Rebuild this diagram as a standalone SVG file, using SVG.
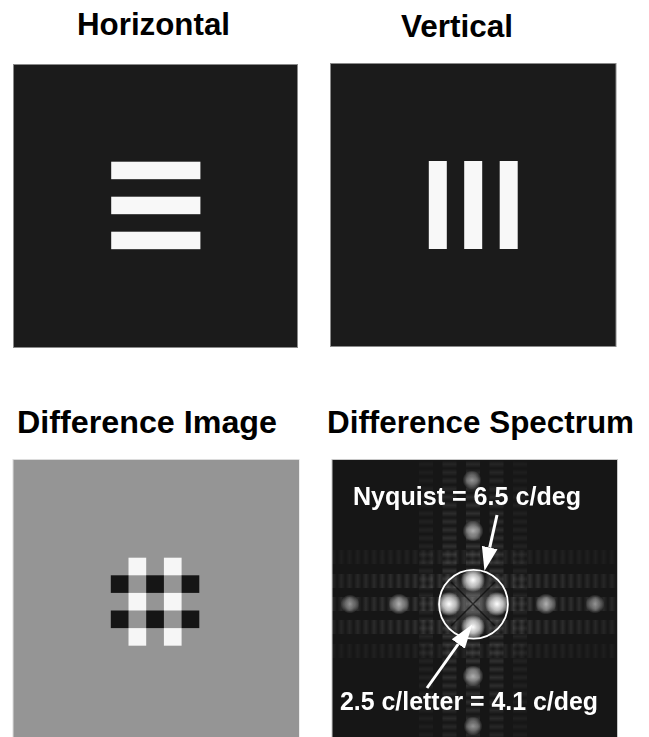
<svg xmlns="http://www.w3.org/2000/svg" width="649" height="737" viewBox="0 0 649 737">
<style>
.title{font-family:"Liberation Sans",Arial,Helvetica,sans-serif;font-weight:bold;font-size:31px;fill:#000}
.lab{font-family:"Liberation Sans",Arial,Helvetica,sans-serif;font-weight:bold;font-size:25px;fill:#fff}
.dark{fill:#1b1b1b;stroke:#8a8a8a;stroke-width:1}
.bar{fill:#f8f8f8}
.blk{fill:#151515}
.wht{fill:#f6f6f6}
.arrow{stroke:#fff;stroke-width:3;fill:none}
</style>
<defs>
<radialGradient id="blob">
<stop offset="0" stop-color="#fff" stop-opacity="1"/>
<stop offset="0.5" stop-color="#e0e0e0" stop-opacity="0.8"/>
<stop offset="1" stop-color="#fff" stop-opacity="0"/>
</radialGradient>
<radialGradient id="glow">
<stop offset="0" stop-color="#808080" stop-opacity="0.55"/>
<stop offset="1" stop-color="#808080" stop-opacity="0"/>
</radialGradient>
<linearGradient id="sx" x1="0" y1="0" x2="1" y2="0">
<stop offset="0" stop-color="#fff" stop-opacity="0"/>
<stop offset="0.5" stop-color="#fff" stop-opacity="1"/>
<stop offset="1" stop-color="#fff" stop-opacity="0"/>
</linearGradient>
<linearGradient id="sy" x1="0" y1="0" x2="0" y2="1">
<stop offset="0" stop-color="#fff" stop-opacity="0"/>
<stop offset="0.5" stop-color="#fff" stop-opacity="1"/>
<stop offset="1" stop-color="#fff" stop-opacity="0"/>
</linearGradient>
<pattern id="vstr" x="1" width="8.2" height="10" patternUnits="userSpaceOnUse">
<rect x="0" y="0" width="8.2" height="10" fill="url(#sx)"/>
</pattern>
<pattern id="hstr" y="1" width="10" height="8.2" patternUnits="userSpaceOnUse">
<rect x="0" y="0" width="10" height="8.2" fill="url(#sy)"/>
</pattern>
<radialGradient id="fade" cx="473" cy="604" r="170" gradientUnits="userSpaceOnUse">
<stop offset="0" stop-color="#fff"/>
<stop offset="1" stop-color="#555"/>
</radialGradient>
<mask id="fadeMask" maskUnits="userSpaceOnUse" x="332" y="460" width="286" height="277">
<rect x="332" y="460" width="286" height="277" fill="url(#fade)"/>
</mask>
<clipPath id="specClip"><rect x="332.5" y="460" width="284.5" height="277"/></clipPath>
<marker id="head" markerUnits="userSpaceOnUse" markerWidth="24" markerHeight="18" viewBox="0 0 24 18" refX="0" refY="9" orient="auto">
<path d="M0,1 L24,9 L0,17 Z" fill="#fff"/>
</marker>
</defs>
<rect width="649" height="737" fill="#fff"/>

<g id="horizontal">
<text class="title" x="77" y="35" textLength="153" lengthAdjust="spacingAndGlyphs">Horizontal</text>
<rect class="dark" x="13.5" y="64.5" width="284" height="283"/>
<rect class="bar" x="111.2" y="161.7" width="89.2" height="17.5"/>
<rect class="bar" x="111.2" y="196.7" width="89.2" height="17.5"/>
<rect class="bar" x="111.2" y="231.7" width="89.2" height="17.5"/>
</g>

<g id="vertical">
<text class="title" x="401" y="37" textLength="112" lengthAdjust="spacingAndGlyphs">Vertical</text>
<rect class="dark" x="330.5" y="63.5" width="285.5" height="283"/>
<rect class="bar" x="428.8" y="161" width="18" height="88"/>
<rect class="bar" x="464.2" y="161" width="18" height="88"/>
<rect class="bar" x="499.7" y="161" width="18" height="88"/>
</g>

<g id="difference-image">
<text class="title" x="17" y="433" textLength="260" lengthAdjust="spacingAndGlyphs">Difference Image</text>
<rect x="12.5" y="459" width="287" height="280" fill="#dcdcdc"/>
<rect x="13.5" y="460" width="285.5" height="277" fill="#959595"/>
<rect class="wht" x="128.5" y="557.7" width="17.7" height="17.6"/>
<rect class="wht" x="128.5" y="592.9" width="17.7" height="17.6"/>
<rect class="wht" x="128.5" y="628.1" width="17.7" height="17.6"/>
<rect class="wht" x="163.9" y="557.7" width="17.7" height="17.6"/>
<rect class="wht" x="163.9" y="592.9" width="17.7" height="17.6"/>
<rect class="wht" x="163.9" y="628.1" width="17.7" height="17.6"/>
<rect class="blk" x="110.8" y="575.3" width="17.7" height="17.6"/>
<rect class="blk" x="146.2" y="575.3" width="17.7" height="17.6"/>
<rect class="blk" x="181.6" y="575.3" width="17.7" height="17.6"/>
<rect class="blk" x="110.8" y="610.5" width="17.7" height="17.6"/>
<rect class="blk" x="146.2" y="610.5" width="17.7" height="17.6"/>
<rect class="blk" x="181.6" y="610.5" width="17.7" height="17.6"/>
</g>

<g id="difference-spectrum">
<text class="title" x="327" y="433" textLength="307" lengthAdjust="spacingAndGlyphs">Difference Spectrum</text>
<rect x="331.5" y="459" width="286.5" height="280" fill="#c8c8c8"/>
<rect x="332.5" y="460" width="284.5" height="277" fill="#161616"/>
<g clip-path="url(#specClip)">
<g mask="url(#fadeMask)">
<g fill="url(#vstr)">
<rect x="332" y="550" width="286" height="14" opacity="0.08"/>
<rect x="332" y="574" width="286" height="14" opacity="0.15"/>
<rect x="332" y="597" width="286" height="14" opacity="0.17"/>
<rect x="332" y="620" width="286" height="14" opacity="0.15"/>
<rect x="332" y="644" width="286" height="14" opacity="0.08"/>
</g>
<g fill="url(#hstr)">
<rect x="419" y="460" width="14" height="277" opacity="0.08"/>
<rect x="442.5" y="460" width="14" height="277" opacity="0.15"/>
<rect x="466" y="460" width="14" height="277" opacity="0.17"/>
<rect x="489.5" y="460" width="14" height="277" opacity="0.15"/>
<rect x="513" y="460" width="14" height="277" opacity="0.08"/>
</g>
</g>
<circle cx="473" cy="604" r="32" fill="url(#glow)"/>
<g stroke="#0c0c0c" stroke-width="1.4" opacity="0.7">
<line x1="451" y1="582" x2="495" y2="626"/>
<line x1="495" y1="582" x2="451" y2="626"/>
</g>
<g fill="url(#blob)">
<circle cx="473" cy="580" r="12"/>
<circle cx="449" cy="604" r="12"/>
<circle cx="497" cy="604" r="12"/>
<circle cx="473" cy="627" r="12"/>
<circle cx="399" cy="604" r="10.5" opacity="0.62"/>
<circle cx="546" cy="604" r="10.5" opacity="0.62"/>
<circle cx="473" cy="531" r="10.5" opacity="0.62"/>
<circle cx="473" cy="676" r="10.5" opacity="0.62"/>
<circle cx="350" cy="604" r="9.5" opacity="0.5"/>
<circle cx="595" cy="604" r="9.5" opacity="0.5"/>
<circle cx="472" cy="480" r="9.5" opacity="0.5"/>
<circle cx="473" cy="726" r="9.5" opacity="0.5"/>
</g>
</g>
<circle cx="473.5" cy="604.3" r="34.4" fill="none" stroke="#fff" stroke-width="1.8"/>
<text class="lab" x="353" y="505" textLength="228" lengthAdjust="spacingAndGlyphs">Nyquist = 6.5 c/deg</text>
<text class="lab" x="340" y="710" textLength="258" lengthAdjust="spacingAndGlyphs">2.5 c/letter = 4.1 c/deg</text>
</g>

<g id="connectors">
<line class="arrow" x1="497" y1="515" x2="489.7" y2="547.6" marker-end="url(#head)"/>
<line class="arrow" x1="427" y1="688" x2="458.3" y2="644" marker-end="url(#head)"/>
</g>
</svg>
